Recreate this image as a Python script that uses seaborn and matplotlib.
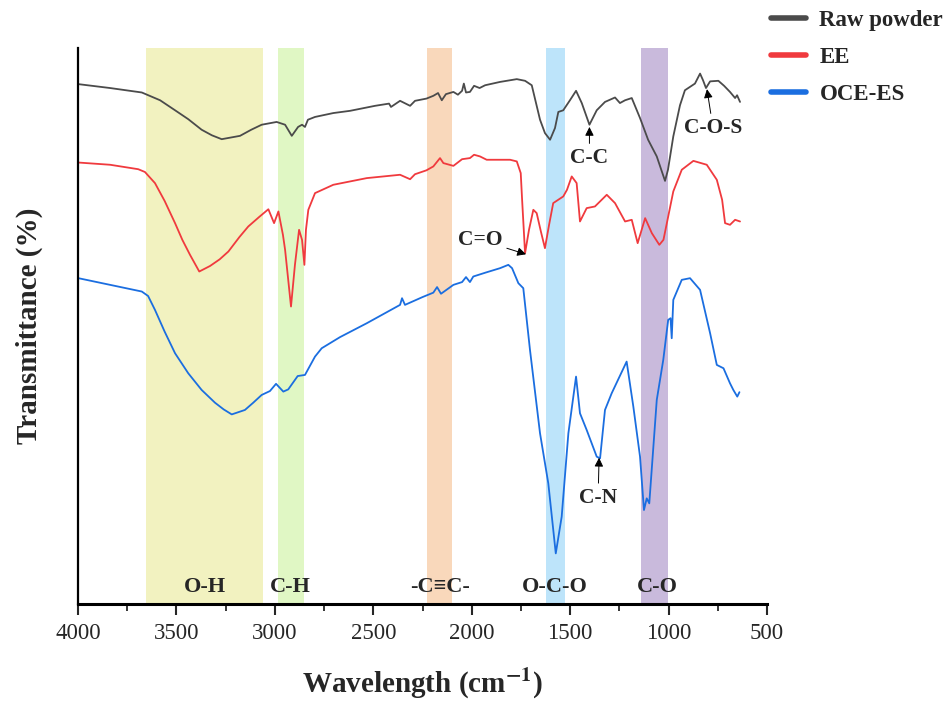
import matplotlib
matplotlib.use("Agg")
import matplotlib.pyplot as plt
from matplotlib.lines import Line2D
from matplotlib.ticker import MultipleLocator
import seaborn as sns
import pandas as pd

# FTIR spectra: wavenumber (cm^-1) and transmittance (%, offset for stacking)
raw_wn = [3998, 3837, 3676, 3583, 3507, 3440, 3372, 3320, 3270, 3177, 3120, 3067, 2991,
          2948, 2914, 2882, 2862, 2847, 2832, 2796, 2703, 2618, 2491, 2420, 2410, 2364,
          2313, 2288, 2230, 2195, 2171, 2152, 2131, 2093, 2070, 2049, 2040, 2029, 2009,
          1988, 1960, 1932, 1856, 1771, 1729, 1695, 1653, 1628, 1602, 1577, 1560, 1535,
          1501, 1470, 1441, 1402, 1365, 1323, 1272, 1247, 1221, 1187, 1145, 1104, 1060,
          1018, 1003, 976, 942, 917, 866, 840, 825, 810, 789, 747, 718, 688, 662, 652, 637]
raw_t = [93.5, 92.8, 92.0, 90.6, 88.8, 87.2, 85.3, 84.3, 83.6, 84.2, 85.3, 86.2, 86.7,
         86.2, 84.2, 85.8, 86.2, 85.8, 87.1, 87.6, 88.3, 88.7, 89.6, 90.0, 89.4, 90.5,
         89.6, 90.5, 90.9, 91.4, 91.9, 90.6, 91.7, 92.1, 91.6, 92.3, 93.6, 92.0, 92.1,
         93.2, 92.8, 93.3, 93.9, 94.4, 94.1, 93.3, 87.1, 84.7, 83.5, 85.6, 88.5, 88.8,
         90.6, 92.3, 90.1, 86.2, 88.8, 90.3, 91.1, 90.1, 90.6, 91.0, 87.4, 83.5, 80.5,
         76.1, 78.1, 84.1, 89.7, 92.4, 93.6, 95.4, 94.2, 92.8, 94.0, 94.1, 93.2, 92.1, 91.0,
         91.5, 90.3]

ee_wn = [3998, 3837, 3694, 3660, 3609, 3560, 3507, 3470, 3431, 3384, 3329, 3280, 3236,
         3180, 3135, 3080, 3033, 3004, 2982, 2959, 2948, 2918, 2898, 2877, 2862, 2850,
         2842, 2830, 2796, 2703, 2533, 2364, 2313, 2288, 2230, 2195, 2161, 2144, 2093,
         2049, 2009, 1988, 1958, 1924, 1856, 1805, 1771, 1751, 1744, 1729, 1709, 1687,
         1670, 1648, 1628, 1607, 1586, 1535, 1516, 1492, 1467, 1450, 1416, 1374, 1314,
         1272, 1221, 1187, 1157, 1119, 1085, 1047, 1026, 976, 933, 874, 806, 755, 728,
         713, 688, 662, 637]
ee_t = [79.4, 79.0, 78.2, 77.7, 75.7, 72.5, 68.5, 65.5, 62.8, 59.8, 60.8, 62.0, 63.4,
        66.0, 67.9, 69.6, 71.0, 68.5, 70.6, 66.4, 63.7, 53.5, 61.0, 67.3, 65.5, 61.0,
        67.3, 70.9, 73.9, 75.4, 76.6, 77.2, 76.4, 77.3, 78.0, 78.7, 80.2, 79.3, 78.8,
        80.0, 80.2, 80.8, 80.5, 79.9, 79.9, 79.9, 79.6, 77.5, 72.7, 63.1, 67.3, 70.9,
        70.3, 66.9, 64.0, 68.2, 72.1, 73.3, 74.5, 76.9, 75.7, 68.8, 71.2, 71.5, 73.6,
        72.1, 68.8, 69.1, 64.9, 69.4, 66.7, 64.6, 65.5, 74.2, 78.1, 79.7, 79.0, 76.3, 72.7,
        68.5, 68.2, 69.1, 68.8]

oce_wn = [3998, 3837, 3676, 3644, 3609, 3560, 3507, 3440, 3372, 3304, 3260, 3219, 3152,
          3110, 3067, 3025, 2994, 2957, 2932, 2884, 2847, 2796, 2762, 2669, 2533, 2364,
          2354, 2339, 2250, 2195, 2176, 2156, 2093, 2049, 2029, 2009, 1992, 1930, 1856,
          1814, 1795, 1763, 1738, 1704, 1653, 1611, 1573, 1543, 1509, 1470, 1450, 1416,
          1365, 1348, 1323, 1289, 1213, 1179, 1145, 1125, 1111, 1098, 1060, 1027, 1002,
          990, 984, 976, 933, 891, 840, 789, 755, 721, 688, 671, 651, 640]
oce_t = [58.6, 57.4, 56.2, 55.4, 52.9, 49.0, 45.1, 41.5, 38.5, 36.2, 35.0, 34.1, 34.9,
         36.2, 37.6, 38.3, 39.6, 38.2, 38.6, 41.0, 41.2, 44.5, 46.0, 48.0, 50.5, 53.8,
         55.0, 53.8, 55.2, 56.0, 57.0, 55.8, 57.4, 57.9, 58.8, 57.9, 58.9, 59.6, 60.4,
         61.0, 60.4, 57.7, 56.8, 45.7, 30.7, 21.7, 9.1, 15.7, 30.7, 40.9, 34.3, 31.3,
         26.5, 26.2, 34.9, 37.9, 43.6, 35.5, 26.5, 16.9, 19.0, 18.1, 36.7, 43.9, 51.1,
         51.4, 47.8, 54.7, 58.3, 58.6, 56.5, 48.7, 43.0, 42.4, 39.7, 38.5, 37.3, 38.1]

samples = ["Raw powder", "EE", "OCE-ES"]
colors = {"Raw powder": "#4b4b4b", "EE": "#f03a3e", "OCE-ES": "#1b6ee0"}

# Functional-group bands (cm^-1): label, high edge, low edge, label position, colour
band_labels = ["O-H", "C-H", "-C\u2261C-", "O-C-O", "C-O"]
band_hi = [3655, 2984, 2227, 1622, 1139]
band_lo = [3060, 2852, 2100, 1525, 1002]
band_text_x = [3355, 2923, 2160, 1577, 1058]
band_colors = ["#f2f2c0", "#e0f7c4", "#f9d8bb", "#bde4fa", "#c9badc"]

# Peak annotations: label, peak position, text position
peak_labels = ["C-C", "C-O-S", "C=O", "C-N"]
peak_xy = [(1402, 85.8), (805, 92.6), (1724, 62.9), (1353, 26.3)]
peak_text = [(1402, 80.2), (774, 85.6), (1958, 65.5), (1358, 19.1)]

frames = []
for name, wn, t in [("Raw powder", raw_wn, raw_t), ("EE", ee_wn, ee_t), ("OCE-ES", oce_wn, oce_t)]:
    frames.append(pd.DataFrame({"wavenumber": wn, "transmittance": t, "sample": name}))
df = pd.concat(frames, ignore_index=True)

sns.set_style("white")
serif = ["Liberation Serif", "DejaVu Serif"]
plt.rcParams["font.family"] = serif
plt.rcParams["mathtext.fontset"] = "stix"

fig = plt.figure(figsize=(9.52, 7.04), dpi=100)
ax = fig.add_axes([78 / 952, 1 - 604 / 704, (767 - 78) / 952, (604 - 48) / 704])

for lab, hi, lo, tx, c in zip(band_labels, band_hi, band_lo, band_text_x, band_colors):
    ax.axvspan(lo, hi, color=c, lw=0, zorder=0)
    ax.text(tx, 3.0, lab, ha="center", va="center", fontsize=16, fontweight="bold",
            family=serif, zorder=3)

sns.lineplot(data=df, x="wavenumber", y="transmittance", hue="sample",
             palette=colors, estimator=None, sort=False, lw=1.3, legend=False,
             ax=ax, zorder=2)

for lab, xy, xt in zip(peak_labels, peak_xy, peak_text):
    ax.annotate(lab, xy=xy, xytext=xt, ha="center", va="center", fontsize=15.5,
                fontweight="bold", zorder=4,
                arrowprops=dict(arrowstyle="-|>", color="black", lw=0.7,
                                mutation_scale=13, shrinkA=1, shrinkB=0))

ax.set_xlim(4000, 500)
ax.set_ylim(0, 100)
ax.xaxis.set_major_locator(MultipleLocator(500))
ax.xaxis.set_minor_locator(MultipleLocator(250))
ax.set_yticks([])
ax.tick_params(axis="x", which="major", direction="out", length=8, width=1.5,
               labelsize=16.5, bottom=True, pad=6)
ax.tick_params(axis="x", which="minor", direction="out", length=5, width=1.3, bottom=True)
for s in ["top", "right"]:
    ax.spines[s].set_visible(False)
ax.spines["bottom"].set_linewidth(2.2)
ax.spines["left"].set_linewidth(1.6)
ax.spines["bottom"].set_color("black")
ax.spines["left"].set_color("black")

ax.set_xlabel("Wavelength (cm$^{\\mathbf{-1}}$)", fontsize=21, fontweight="bold", labelpad=16)
ax.set_ylabel("Transmittance (%)", fontsize=21, fontweight="bold", labelpad=25)

handles = [Line2D([0], [0], color=colors[s], lw=4) for s in samples]
leg = fig.legend(handles, samples, loc="upper left", bbox_to_anchor=(0.803, 0.996),
                 borderaxespad=0, borderpad=0.3, frameon=False, handlelength=1.5,
                 handletextpad=0.6, labelspacing=0.7,
                 prop={"family": serif, "weight": "bold", "size": 16.5})

fig.savefig("out.png", dpi=100)
